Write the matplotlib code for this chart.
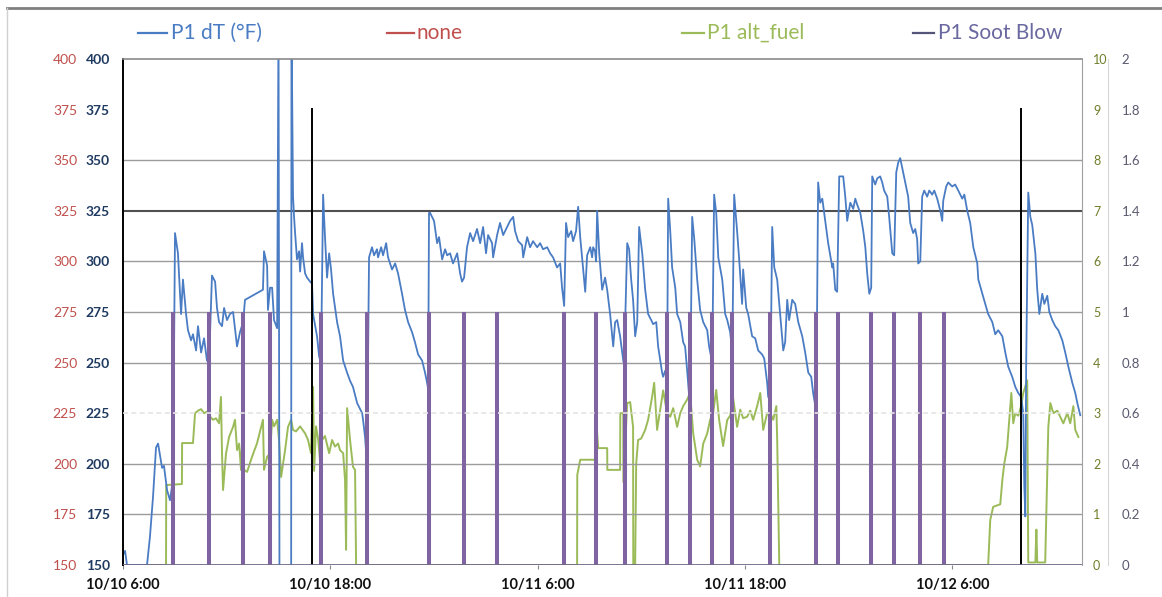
import matplotlib
matplotlib.use("Agg")
import matplotlib.pyplot as plt
from matplotlib.lines import Line2D

plt.rcParams['font.family'] = ['Lato', 'DejaVu Sans']

# ---------------- data ----------------
# time in hours after 10/10 6:00
dt_hours = [0, 0.12, 0.23, 1.39, 1.56, 1.74, 1.91, 2.03, 2.26, 2.37, 2.55, 2.72, 2.84, 2.89, 3.01,
            3.18, 3.36, 3.47, 3.65, 3.76, 3.94, 4.05, 4.23, 4.34, 4.52, 4.69, 4.86, 4.98, 5.15,
            5.33, 5.44, 5.56, 5.73, 5.85, 6.02, 6.19, 6.37, 6.60, 6.77, 6.95, 7.06, 8.10, 8.16,
            8.34, 8.39, 8.51, 8.63, 8.74, 8.92, 9.00, 9.06, 9.73, 9.75, 9.84, 9.90, 9.96, 10.07,
            10.19, 10.25, 10.36, 10.42, 10.54, 10.65, 10.83, 10.94, 11.00, 11.23, 11.35, 11.46,
            11.58, 11.69, 11.81, 11.93, 12.04, 12.16, 12.39, 12.56, 12.74, 12.97, 13.14, 13.31,
            13.55, 13.72, 13.84, 13.89, 14.01, 14.12, 14.24, 14.41, 14.53, 14.70, 14.76, 14.94,
            15.05, 15.23, 15.34, 15.57, 15.75, 15.92, 16.15, 16.32, 16.50, 16.73, 16.90, 17.08,
            17.31, 17.48, 17.60, 17.66, 17.71, 17.77, 18.00, 18.18, 18.29, 18.47, 18.64, 18.76,
            18.93, 19.10, 19.34, 19.51, 19.62, 19.74, 19.91, 20.09, 20.26, 20.49, 20.67, 20.84,
            21.01, 21.13, 21.36, 21.42, 21.65, 21.82, 22.00, 22.23, 22.40, 22.58, 22.69, 22.87,
            23.10, 23.16, 23.39, 23.56, 23.73, 23.97, 24.14, 24.31, 24.55, 24.72, 24.89, 25.12,
            25.30, 25.41, 25.53, 25.64, 25.76, 25.94, 26.05, 26.22, 26.34, 26.46, 26.63, 26.75,
            26.86, 27.04, 27.15, 27.21, 27.32, 27.38, 27.44, 27.56, 27.73, 27.90, 28.02, 28.19,
            28.37, 28.48, 28.60, 28.77, 28.95, 29.00, 29.18, 29.29, 29.41, 29.52, 29.64, 29.76,
            29.87, 30.05, 30.22, 30.39, 30.57, 30.68, 30.86, 30.97, 31.20, 31.26, 31.38, 31.49,
            31.55, 31.67, 31.78, 31.96, 32.07, 32.25, 32.42, 32.53, 32.65, 32.77, 32.82, 32.94,
            33.06, 33.23, 33.40, 33.58, 33.81, 33.92, 34.10, 34.21, 34.33, 34.45, 34.68, 34.85,
            34.97, 35.14, 35.26, 35.37, 35.54, 35.66, 35.83, 35.89, 36.07, 36.18, 36.41, 36.59,
            36.76, 36.99, 37.11, 37.28, 37.34, 37.46, 37.57, 37.69, 37.86, 38.03, 38.21, 38.32,
            38.44, 38.55, 38.73, 38.90, 39.08, 39.31, 39.48, 39.66, 39.83, 39.94, 40.12, 40.23,
            40.35, 40.47, 40.64, 40.81, 41.05, 41.10, 41.22, 41.33, 41.45, 41.68, 41.80, 41.91,
            42.09, 42.26, 42.38, 42.49, 42.67, 42.84, 42.96, 43.07, 43.19, 43.30, 43.36, 43.53,
            43.65, 43.82, 43.94, 44.05, 44.23, 44.34, 44.52, 44.63, 44.75, 44.87, 44.98, 45.10,
            45.27, 45.44, 45.56, 45.73, 45.85, 45.96, 46.02, 46.14, 46.25, 46.37, 46.54, 46.66,
            46.83, 46.95, 47.12, 47.30, 47.41, 47.47, 47.64, 47.76, 47.99, 48.16, 48.34, 48.57,
            48.69, 48.86, 49.03, 49.21, 49.44, 49.50, 49.73, 49.90, 50.07, 50.31, 50.48, 50.65,
            50.89, 51.06, 51.23, 51.46, 51.64, 51.81, 51.98, 52.10, 52.16, 52.22, 52.27, 52.39,
            52.51, 52.62, 52.80, 52.91, 53.03, 53.20, 53.32, 53.49, 53.61, 53.78, 53.95, 54.13,
            54.36, 54.53, 54.71, 54.94, 55.11, 55.23, 55.40]
dt_values = [155, 157, 150, 150, 164, 184, 208, 210, 198, 199, 187, 182, 189, 190, 314,
             304, 274, 291, 274, 266, 261, 264, 256, 268, 255, 262, 251, 250, 293,
             290, 277, 270, 268, 277, 271, 274, 275, 258, 265, 270, 281, 286, 305,
             298, 276, 287, 287, 271, 267, 420, 120, 120, 420, 332, 322, 314, 301,
             305, 295, 309, 302, 294, 292, 290, 289, 274, 263, 253, 250,
             333, 312, 292, 304, 296, 284, 270, 263, 251, 245, 241, 238,
             230, 227, 225, 222, 213, 200, 302, 307, 303, 306, 302, 307,
             303, 309, 302, 296, 299, 294, 284, 276, 270, 265, 260, 254,
             251, 245, 240, 237, 324, 324, 320, 309, 312, 301, 306, 303,
             304, 299, 304, 294, 290, 292, 307, 314, 310, 316, 309, 317,
             304, 313, 309, 302, 313, 319, 313, 317, 320, 322, 315, 310,
             308, 302, 312, 307, 310, 307, 309, 306, 307, 304, 302, 297,
             299, 287, 278, 319, 312, 315, 310, 315, 327, 312, 296, 285,
             303, 307, 302, 307, 305, 300, 325, 304, 286, 292, 286, 274,
             258, 270, 271, 263, 251, 249, 309, 306, 291, 281, 263, 270,
             317, 304, 286, 274, 271, 269, 270, 258, 245, 243, 246, 244,
             331, 315, 297, 287, 274, 270, 260, 258, 246, 233, 232, 322,
             311, 291, 276, 270, 266, 258, 250, 333, 324, 302, 291, 274,
             271, 265, 255, 333, 315, 301, 279, 296, 277, 274, 263, 262,
             256, 254, 252, 240, 233, 232, 317, 297, 291, 274, 256, 260,
             281, 271, 281, 279, 270, 263, 255, 245, 243, 235, 226, 339,
             329, 331, 320, 309, 297, 299, 286, 285, 342, 342, 332, 320,
             329, 326, 331, 328, 324, 315, 307, 294, 284, 287, 342, 338,
             341, 342, 339, 335, 332, 322, 304, 303, 344, 349, 351, 346,
             339, 332, 319, 314, 316, 311, 299, 300, 332, 335, 332, 335,
             333, 335, 331, 325, 320, 330, 337, 339, 337, 338, 335, 331,
             333, 325, 319, 307, 299, 291, 284, 279, 274, 270, 264, 266,
             263, 255, 248, 243, 238, 235, 233, 225, 189, 174, 250, 334,
             322, 318, 304, 286, 274, 284, 279, 283, 275, 271, 268, 266,
             261, 255, 248, 240, 235, 230, 224]

fuel_hours = [0, 2.49, 2.50, 3.41, 3.42, 4.05, 4.17, 4.34, 4.52, 4.69, 4.86, 4.98, 5.21, 5.38,
              5.56, 5.67, 5.73, 5.79, 5.96, 6.14, 6.37, 6.48, 6.60, 6.72, 6.83, 6.95, 7.00,
              7.18, 7.47, 7.76, 8.10, 8.16, 8.34, 8.51, 8.63, 8.74, 8.92, 9.03, 9.15, 9.38,
              9.55, 9.73, 9.84, 10.01, 10.25, 10.54, 10.71, 10.88, 11.00, 11.06, 11.17, 11.29,
              11.40, 11.52, 11.69, 11.93, 12.10, 12.27, 12.45, 12.56, 12.74, 12.85, 12.91,
              12.97, 13.14, 13.31, 13.43, 13.49,
              26.28, 26.29, 26.46, 27.32, 27.38, 27.50, 28.02, 28.03, 28.77, 28.78, 28.95,
              28.96, 29.18, 29.35, 29.52, 29.53, 29.64, 29.70, 29.81, 29.99, 30.22, 30.39,
              30.62, 30.74, 30.91, 31.09, 31.26, 31.49, 31.67, 31.84, 32.07, 32.25, 32.42,
              32.65, 32.82, 33.00, 33.23, 33.40, 33.58, 33.81, 33.98, 34.15, 34.33, 34.50,
              34.73, 34.97, 35.14, 35.31, 35.54, 35.72, 35.89, 36.12, 36.30, 36.47, 36.70,
              36.88, 37.05, 37.28, 37.46, 37.63, 37.81, 37.86, 37.98,
              50.07, 50.19, 50.36, 50.77, 50.89, 51.00, 51.17, 51.29, 51.41, 51.52, 51.64,
              51.81, 51.98, 52.10, 52.33, 52.39, 52.80, 52.86, 52.91, 53.37, 53.49, 53.55,
              53.67, 53.84, 54.07, 54.24, 54.42, 54.65, 54.82, 55.00, 55.11, 55.29]
fuel_values = [0, 0, 1.58, 1.60, 2.41, 2.41, 3.00, 3.05, 3.08, 3.00, 3.03, 2.95, 2.87, 2.90,
               2.80, 3.32, 2.21, 1.48, 2.20, 2.53, 2.73, 2.87, 2.27, 2.40, 1.88, 2.87, 1.88,
               1.84, 2.14, 2.41, 2.87, 1.88, 2.14, 2.20, 2.87, 2.74, 2.87, 2.47, 1.74, 2.27,
               2.73, 2.87, 2.67, 2.64, 2.74, 2.60, 2.47, 2.21, 3.52, 1.86, 2.74, 2.50,
               2.08, 2.47, 2.55, 2.21, 2.47, 2.34, 2.40, 2.27, 2.21, 1.68, 0.30,
               3.10, 2.47, 1.94, 1.88, 0,
               0, 1.78, 2.08, 2.08, 2.90, 2.31, 2.31, 1.88, 1.88, 3.00, 3.00,
               1.64, 3.20, 3.22, 2.73, 0, 0, 2.00, 2.47, 2.50, 2.67, 2.87,
               3.32, 3.60, 2.67, 3.07, 3.45, 3.00, 2.93, 3.10, 2.73, 3.00, 3.14,
               3.27, 3.40, 2.60, 2.08, 1.95, 2.40, 2.60, 2.87, 3.00, 3.46, 2.87,
               2.35, 2.87, 2.95, 3.30, 2.73, 3.07, 2.90, 2.93, 3.05, 2.87, 3.14,
               3.40, 2.67, 3.00, 3.00, 2.87, 3.14, 2.47, 0,
               0, 0.89, 1.15, 1.20, 1.68, 2.00, 2.33, 2.87, 3.40, 2.80, 3.00,
               2.95, 3.14, 3.40, 3.65, 0.05, 0.05, 0.70, 0.05, 0.05, 1.81, 2.73,
               3.20, 3.00, 3.05, 2.93, 2.80, 3.00, 2.80, 3.14, 2.67, 2.53]

soot_hours = [2.89, 4.98, 6.95, 8.51, 11.46, 14.12, 17.71, 19.74, 21.65, 25.53, 27.38, 29.06,
              31.49, 32.82, 34.09, 35.25, 37.45, 40.12, 41.39, 43.30, 44.63, 46.14, 47.53]
soot_level = 1.0

event_hours = [10.94, 51.98]
event_top = [376, 376]

none_hours = []
none_values = []

x_ticks = [0, 12, 24, 36, 48]
x_labels = ["10/10 6:00", "10/10 18:00", "10/11 6:00", "10/11 18:00", "10/12 6:00"]
left_ticks = [150, 175, 200, 225, 250, 275, 300, 325, 350, 375, 400]
fuel_ticks = [0, 1, 2, 3, 4, 5, 6, 7, 8, 9, 10]
soot_ticks = [0, 0.2, 0.4, 0.6, 0.8, 1, 1.2, 1.4, 1.6, 1.8, 2]
soot_tick_labels = ["0", "0.2", "0.4", "0.6", "0.8", "1", "1.2", "1.4", "1.6", "1.8", "2"]

series_names = ["P1 dT (°F)", "none", "P1 alt_fuel", "P1 Soot Blow"]

# ---------------- style ----------------
C_BLUE = "#4A7CC4"
C_RED = "#C0504D"
C_GREEN = "#9BBB59"
C_PURPLE = "#8064A2"
C_SOOT_TXT = "#6A68A0"
C_NAVY = "#1F3A60"
C_OLIVE = "#6E7F2A"
C_GRAYR = "#5A5A70"

W, H = 1162, 597
fig = plt.figure(figsize=(W / 100, H / 100), dpi=100)
L, R, B, T = 123, 1082, 565, 59
ax = fig.add_axes([L / W, 1 - B / H, (R - L) / W, (B - T) / H])

ax_g = ax.twinx()
ax_s = ax.twinx()
ax_r = ax.twinx()

ax.set_xlim(0, 55.5)
ax.set_ylim(150, 400)
ax_r.set_ylim(150, 400)
ax_g.set_ylim(0, 10)
ax_s.set_ylim(0, 2)

# gridlines
for v in [175, 200, 250, 275, 300, 350]:
    ax.axhline(v, color="#9C9C9C", lw=1.0, zorder=0)
ax.axhline(325, color="#505050", lw=1.5, zorder=0)

# series
ax.set_zorder(2); ax.patch.set_visible(False)
ax_g.set_zorder(1)
ax_s.set_zorder(3)
ax_r.set_zorder(0)

ax_g.plot(fuel_hours, fuel_values, color=C_GREEN, lw=1.4)
ax.plot(dt_hours, dt_values, color=C_BLUE, lw=1.3)
ax.plot(none_hours, none_values, color=C_RED, lw=1.3)
ax_s.vlines(soot_hours, 0, soot_level, color=C_PURPLE, lw=2.9)
ax_s.axhline(0, color="#6F6A8A", lw=2.0)
ax.vlines(event_hours, 150, event_top, color="black", lw=1.4, zorder=5)

# light dashed 225 line on top
ax_s.axhline(0.6, color="#E4E4E4", lw=1.2, ls=(0, (3, 2)), zorder=6)

# spines
for a in (ax, ax_g, ax_s, ax_r):
    for s in a.spines.values():
        s.set_visible(False)
ax.spines['left'].set_visible(True)
ax.spines['left'].set_color("black")
ax.spines['left'].set_linewidth(1.4)
ax.spines['top'].set_visible(True)
ax.spines['top'].set_color("#8A8A8A")
ax.spines['top'].set_linewidth(1.2)
ax.spines['right'].set_visible(True)
ax.spines['right'].set_color("#A0A0A0")
ax_s.spines['right'].set_visible(True)
ax_s.spines['right'].set_position(('outward', 26 * 0.72))
ax_s.spines['right'].set_color("#D8D8D8")

# ticks
ax.set_xticks(x_ticks)
ax.set_xticklabels(x_labels, fontsize=10.5, fontweight='bold', color="#111111")
ax.tick_params(axis='x', length=3, color="#888888", pad=6)

ax.set_yticks(left_ticks)
ax.tick_params(axis='y', length=0, pad=9.4, labelsize=10, labelcolor=C_NAVY)
for lb in ax.get_yticklabels():
    lb.set_fontweight('bold')

ax_r.yaxis.set_ticks_position('left')
ax_r.set_yticks(left_ticks)
ax_r.tick_params(axis='y', which='both', left=True, right=False, labelleft=True,
                 labelright=False, length=0, pad=33, labelsize=10, labelcolor=C_RED)

ax_g.set_yticks(fuel_ticks)
ax_g.tick_params(axis='y', length=0, pad=8, labelsize=9, labelcolor=C_OLIVE)

ax_s.set_yticks(soot_ticks)
ax_s.set_yticklabels(soot_tick_labels)
ax_s.tick_params(axis='y', length=0, pad=10, labelsize=9.5, labelcolor=C_GRAYR)

# legend (manual, across the top)
ly = 1 - 33 / H
legend_items = [
    (138, 167, 171, C_BLUE, C_BLUE),
    (387, 414, 417, C_RED, C_RED),
    (682, 704, 707, C_GREEN, C_GREEN),
    (913, 934, 938, "#55557A", C_SOOT_TXT),
]
for (x0, x1, xt, lc, tc), name in zip(legend_items, series_names):
    fig.add_artist(Line2D([x0 / W, x1 / W], [ly, ly], color=lc, lw=1.6))
    fig.text(xt / W, ly, name, color=tc, fontsize=15, va='center', ha='left')

# figure frame
fig.add_artist(Line2D([7 / W, 1], [1 - 8 / H, 1 - 8 / H], color="#808080", lw=2))
fig.add_artist(Line2D([7 / W, 7 / W], [0, 1 - 8 / H], color="#D0D0D0", lw=1))

fig.savefig("out.png", dpi=100)
